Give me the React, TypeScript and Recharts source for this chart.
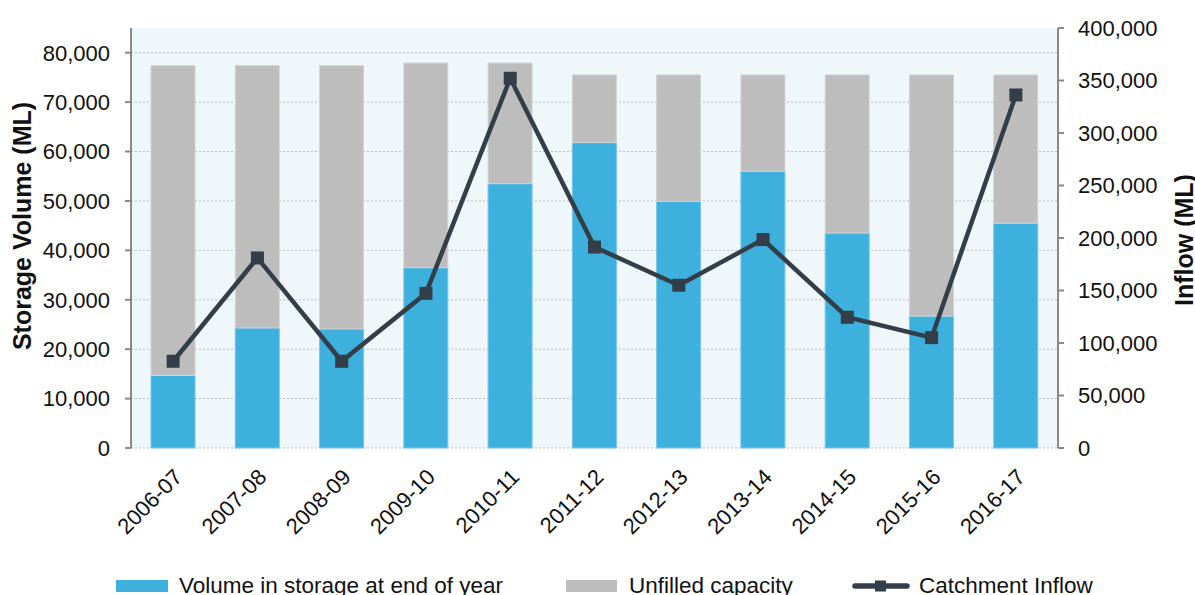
import React from 'react';
import { ComposedChart, Bar, Line, XAxis, YAxis, CartesianGrid, Legend } from 'recharts';

const categories = ['2006-07', '2007-08', '2008-09', '2009-10', '2010-11', '2011-12', '2012-13', '2013-14', '2014-15', '2015-16', '2016-17'];
const storageVolume = [14700, 24300, 24100, 36500, 53500, 61800, 49900, 56000, 43500, 26700, 45500];
const unfilledCapacity = [62700, 53100, 53300, 41400, 24400, 13700, 25600, 19500, 32000, 48800, 30000];
const catchmentInflow = [82600, 181000, 82600, 147300, 352100, 191400, 155000, 198500, 124500, 105100, 336200];
const storageTicks = [0, 10000, 20000, 30000, 40000, 50000, 60000, 70000, 80000];
const inflowTicks = [0, 50000, 100000, 150000, 200000, 250000, 300000, 350000, 400000];
// category boundaries for the excel-style tick marks between bars
const boundaryTicks = categories.map((_, i) => i).concat(categories.length);

const data = categories.map((year, i) => ({
  year,
  volume: storageVolume[i],
  unfilled: unfilledCapacity[i],
  inflow: catchmentInflow[i],
}));

const BLUE = '#3DB0DE';
const GREY = '#BDBDBD';
const LINE = '#333E48';
const AXIS = '#898989';
const FONT = '"Liberation Sans", Arial, sans-serif';

const fmt = (v: number) => v.toLocaleString('en-US');

const SquareDot = (props: any) => {
  const { cx, cy, index } = props;
  if (cx == null || cy == null) return null;
  return <rect key={`dot-${index}`} x={cx - 6.5} y={cy - 6.5} width={13} height={13} fill={LINE} />;
};

const YearTick = (props: any) => {
  const { x, y, payload } = props;
  return (
    <g transform={`translate(${x + 5},${y + 17})`}>
      <text transform="rotate(-45)" textAnchor="end" dy="0.35em" fontSize={22} fill="#111" fontFamily={FONT}>
        {payload.value}
      </text>
    </g>
  );
};

// vertical axis titles, placed inside the axis box
const AxisTitle = (props: any) => {
  const { viewBox, value, dx, dy } = props;
  if (!viewBox) return null;
  const cx = viewBox.x + dx;
  const cy = viewBox.y + viewBox.height / 2 + dy;
  return (
    <text x={cx} y={cy} transform={`rotate(-90,${cx},${cy})`} textAnchor="middle" dominantBaseline="central" fontSize={25} fontWeight="bold" fill="#111" fontFamily={FONT}>
      {value}
    </text>
  );
};

const ChartLegend = () => (
  <div style={{ height: 40, display: 'flex', alignItems: 'center', paddingLeft: 116, paddingTop: 12, boxSizing: 'border-box', fontFamily: FONT, fontSize: 22.5, color: '#111', whiteSpace: 'nowrap' }}>
    <div style={{ width: 450, display: 'flex', alignItems: 'center' }}>
      <span style={{ width: 52, height: 12, background: BLUE, marginRight: 11, display: 'inline-block' }} />
      Volume in storage at end of year
    </div>
    <div style={{ width: 286, display: 'flex', alignItems: 'center' }}>
      <span style={{ width: 51, height: 12, background: GREY, marginRight: 12, display: 'inline-block' }} />
      Unfilled capacity
    </div>
    <div style={{ display: 'flex', alignItems: 'center' }}>
      <svg width={58} height={14} style={{ marginRight: 9 }}>
        <line x1={3} y1={7} x2={55} y2={7} stroke={LINE} strokeWidth={5.5} strokeLinecap="round" />
        <rect x={23} y={1.5} width={11} height={11} fill={LINE} />
      </svg>
      Catchment Inflow
    </div>
  </div>
);

export default function App() {
  return (
    <div style={{ position: 'absolute', top: 0, left: 0, width: 1195, height: 595, overflow: 'hidden', background: '#fff', fontFamily: FONT }}>
      <ComposedChart width={1195} height={600} data={data} margin={{ top: 28, right: 0, bottom: 0, left: 0 }}>
        <CartesianGrid
          xAxisId="cat"
          yAxisId="left"
          vertical={false}
          syncWithTicks
          fill="#EFF7FB"
          stroke="#BDBDBD"
          strokeDasharray="2 2"
        />
        <XAxis
          xAxisId="bounds"
          type="number"
          domain={[0, categories.length]}
          ticks={boundaryTicks}
          interval={0}
          height={0}
          tickFormatter={() => ''}
          axisLine={{ stroke: AXIS, strokeWidth: 2 }}
          tickLine={{ stroke: AXIS, strokeWidth: 2 }}
          tickSize={6}
        />
        <XAxis xAxisId="cat" dataKey="year" interval={0} height={112} axisLine={false} tickLine={false} tick={<YearTick />} />
        <YAxis
          yAxisId="left"
          width={131}
          domain={[0, 85000]}
          ticks={storageTicks}
          interval={0}
          tickFormatter={fmt}
          axisLine={{ stroke: AXIS, strokeWidth: 2 }}
          tickLine={{ stroke: AXIS, strokeWidth: 2 }}
          tickSize={6}
          tickMargin={15}
          tick={{ fontSize: 22, fill: '#111', fontFamily: FONT }}
          label={<AxisTitle value="Storage Volume (ML)" dx={22} dy={-12} />}
        />
        <YAxis
          yAxisId="right"
          orientation="right"
          width={137}
          domain={[0, 400000]}
          ticks={inflowTicks}
          interval={0}
          tickFormatter={fmt}
          axisLine={{ stroke: AXIS, strokeWidth: 2 }}
          tickLine={{ stroke: AXIS, strokeWidth: 2 }}
          tickSize={6}
          tickMargin={14}
          tick={{ fontSize: 22, fill: '#111', fontFamily: FONT }}
          label={<AxisTitle value="Inflow (ML)" dx={126} dy={2} />}
        />
        <Legend verticalAlign="bottom" content={() => <ChartLegend />} />
        <Bar xAxisId="cat" yAxisId="left" dataKey="volume" name="Volume in storage at end of year" stackId="s" fill={BLUE} stroke="#72C6E8" strokeWidth={1} barSize={44} isAnimationActive={false} />
        <Bar xAxisId="cat" yAxisId="left" dataKey="unfilled" name="Unfilled capacity" stackId="s" fill={GREY} stroke="#D3D3D3" strokeWidth={1} barSize={44} isAnimationActive={false} />
        <Line
          xAxisId="cat"
          yAxisId="right"
          dataKey="inflow"
          name="Catchment Inflow"
          type="linear"
          stroke={LINE}
          strokeWidth={4.5}
          dot={<SquareDot />}
          activeDot={false}
          isAnimationActive={false}
        />
      </ComposedChart>
    </div>
  );
}
